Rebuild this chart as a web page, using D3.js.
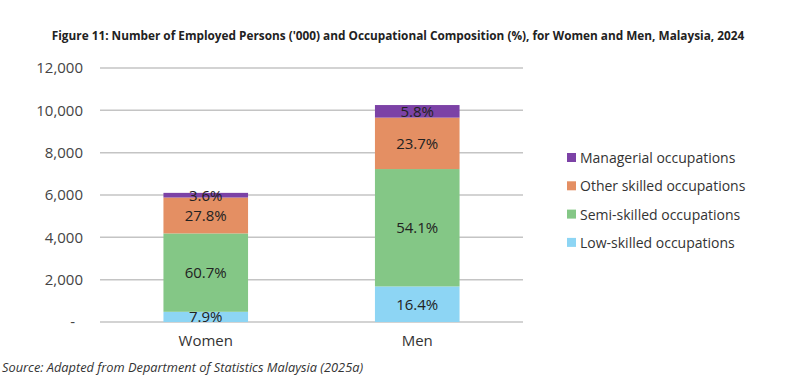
<!DOCTYPE html>
<html>
<head>
<meta charset="utf-8">
<script src="https://cdn.jsdelivr.net/npm/d3@7"></script>
<style>
  body { margin: 0; background: #fff; }
  svg { display: block; font-family: "Open Sans", "Noto Sans", sans-serif; }
</style>
</head>
<body>
<div id="chart"></div>
<script>
// employed persons ('000), by occupation group
var groups = ['Women', 'Men'];
var series = ['Low-skilled occupations', 'Semi-skilled occupations', 'Other skilled occupations', 'Managerial occupations'];
var lowSkilled  = [482, 1681];
var semiSkilled = [3703, 5545];
var otherSkilled = [1696, 2429];
var managerial  = [220, 595];
// composition labels (%)
var lowPct   = ['7.9%', '16.4%'];
var semiPct  = ['60.7%', '54.1%'];
var otherPct = ['27.8%', '23.7%'];
var mgrPct   = ['3.6%', '5.8%'];
var yTicks = [0, 2000, 4000, 6000, 8000, 10000, 12000];

var colors = ['#8dd5f4', '#84c786', '#e48f63', '#7c42a6'];

var W = 800, H = 380;
var svg = d3.select('#chart').append('svg')
    .attr('width', W)
    .attr('height', H);

// title
svg.append('text')
    .attr('x', 398)
    .attr('y', 40)
    .attr('text-anchor', 'middle')
    .attr('font-size', 11.8)
    .attr('font-weight', 'bold')
    .attr('fill', '#222')
    .text("Figure 11: Number of Employed Persons ('000) and Occupational Composition (%), for Women and Men, Malaysia, 2024");

var x = d3.scaleBand().domain(groups).range([100, 523]).paddingInner(0.6).paddingOuter(0.3);
var y = d3.scaleLinear().domain([0, 12000]).range([322, 68]);

// gridlines
svg.append('g')
    .selectAll('line')
    .data(yTicks)
    .enter().append('line')
        .attr('x1', 100)
        .attr('x2', 523)
        .attr('y1', function(d) { return y(d); })
        .attr('y2', function(d) { return y(d); })
        .attr('stroke', '#c4c4c4')
        .attr('stroke-width', 1.5);

// y axis labels
var yAxis = d3.axisLeft(y)
    .tickValues(yTicks)
    .tickSize(0)
    .tickPadding(0)
    .tickFormat(function(d) { return d === 0 ? '-' : d3.format(',')(d); });
var yg = svg.append('g')
    .attr('transform', 'translate(83,0)')
    .call(yAxis);
yg.select('.domain').remove();
yg.selectAll('text')
    .attr('font-size', 15)
    .attr('fill', '#444')
    .attr('font-family', '"Open Sans", sans-serif');
yg.selectAll('.tick').filter(function(d) { return d === 0; }).select('text').attr('dx', -8);

// stacked bars
var rows = groups.map(function(g, i) {
    return {
        group: g,
        'Low-skilled occupations': lowSkilled[i],
        'Semi-skilled occupations': semiSkilled[i],
        'Other skilled occupations': otherSkilled[i],
        'Managerial occupations': managerial[i]
    };
});
var pcts = [lowPct, semiPct, otherPct, mgrPct];
var stack = d3.stack().keys(series)(rows);

var layers = svg.append('g')
    .selectAll('g')
    .data(stack)
    .enter().append('g')
        .attr('fill', function(d, i) { return colors[i]; });

layers.selectAll('rect')
    .data(function(d) { return d; })
    .enter().append('rect')
        .attr('x', function(d) { return x(d.data.group); })
        .attr('width', x.bandwidth())
        .attr('y', function(d) { return y(d[1]); })
        .attr('height', function(d) { return y(d[0]) - y(d[1]); });

stack.forEach(function(layer, li) {
    svg.append('g')
        .selectAll('text')
        .data(layer)
        .enter().append('text')
            .attr('x', function(d) { return x(d.data.group) + x.bandwidth() / 2; })
            .attr('y', function(d) { return (y(d[0]) + y(d[1])) / 2 + 5.5; })
            .attr('text-anchor', 'middle')
            .attr('font-size', 15)
            .attr('fill', '#222')
            .text(function(d, i) { return pcts[li][i]; });
});

// category labels
svg.append('g')
    .selectAll('text')
    .data(groups)
    .enter().append('text')
        .attr('x', function(d) { return x(d) + x.bandwidth() / 2; })
        .attr('y', 346)
        .attr('text-anchor', 'middle')
        .attr('font-size', 15)
        .attr('fill', '#333')
        .text(function(d) { return d; });

// legend, managerial on top
var legendKeys = series.slice().reverse();
var legend = svg.append('g')
    .selectAll('g')
    .data(legendKeys)
    .enter().append('g')
        .attr('transform', function(d, i) { return 'translate(567,' + (158 + i * 28.3) + ')'; });
legend.append('rect')
    .attr('x', 0)
    .attr('y', -5)
    .attr('width', 9)
    .attr('height', 9)
    .attr('fill', function(d) { return colors[series.indexOf(d)]; });
legend.append('text')
    .attr('x', 13)
    .attr('y', 5)
    .attr('font-size', 14)
    .attr('fill', '#333')
    .text(function(d) { return d; });

// source
svg.append('text')
    .attr('x', 2)
    .attr('y', 372)
    .attr('font-size', 12.8)
    .attr('font-style', 'italic')
    .attr('fill', '#333')
    .text('Source: Adapted from Department of Statistics Malaysia (2025a)');
</script>
</body>
</html>
